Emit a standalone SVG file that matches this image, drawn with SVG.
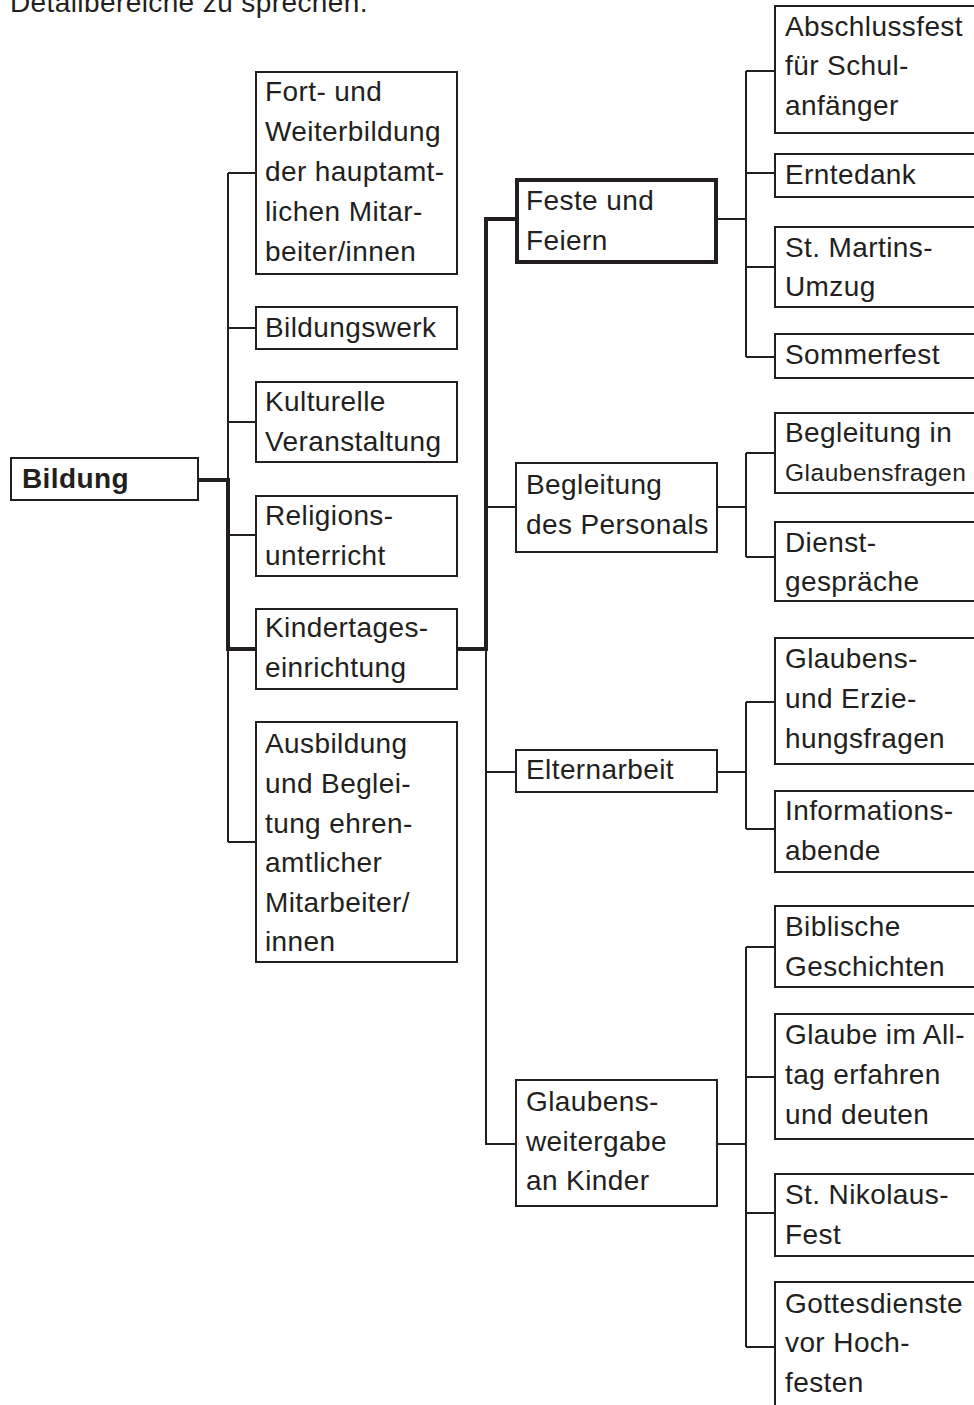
<svg xmlns="http://www.w3.org/2000/svg" width="974" height="1405" viewBox="0 0 974 1405">
<style>
rect.b{fill:#fff;stroke:#231f20;stroke-width:2}
rect.t{fill:#fff;stroke:#231f20;stroke-width:4}
text{font-family:"Liberation Sans",Arial,Helvetica,sans-serif;font-size:28px;fill:#231f20;letter-spacing:0.4px}
.bold{font-weight:bold}
.sm{font-size:24.5px;letter-spacing:0.5px}
#connectors path{fill:none;stroke:#231f20;stroke-width:2}
#connectors path.k{stroke-width:4}
</style>
<rect width="974" height="1405" fill="#fff"/>
<text x="10" y="12">Detailbereiche zu sprechen.</text>
<g id="connectors">
<path d="M228,173V842M228,173H255M228,328H255M228,422H255M228,535H255M228,842H255"/>
<path class="k" d="M198,480H228M228,478V651M228,649H255"/>
<path class="k" d="M457,649H486M486,651V217M484,219H515"/>
<path d="M486,649V1144H515M486,507H515M486,772H515"/>
<path d="M718,219H746M746,71V357M746,71H774M746,173H774M746,267H774M746,357H774"/>
<path d="M718,507H746M746,453V557M746,453H774M746,557H774"/>
<path d="M718,772H746M746,702V829M746,702H774M746,829H774"/>
<path d="M718,1144H746M746,947V1347M746,947H774M746,1077H774M746,1213H774M746,1347H774"/>
</g>
<g id="n-bildung"><rect class="b" x="11" y="458" width="187" height="42"/><text class="bold" x="22" y="488">Bildung</text></g>
<g id="n-fort"><rect class="b" x="256" y="72" width="201" height="202"/><text x="265" y="101">Fort- und</text><text x="265" y="141">Weiterbildung</text><text x="265" y="181">der hauptamt-</text><text x="265" y="221">lichen Mitar-</text><text x="265" y="261">beiter/innen</text></g>
<g id="n-bildungswerk"><rect class="b" x="256" y="307" width="201" height="42"/><text x="265" y="337">Bildungswerk</text></g>
<g id="n-kulturelle"><rect class="b" x="256" y="382" width="201" height="80"/><text x="265" y="411">Kulturelle</text><text x="265" y="451">Veranstaltung</text></g>
<g id="n-religion"><rect class="b" x="256" y="496" width="201" height="80"/><text x="265" y="525">Religions-</text><text x="265" y="565">unterricht</text></g>
<g id="n-kita"><rect class="b" x="256" y="609" width="201" height="80"/><text x="265" y="637">Kindertages-</text><text x="265" y="677">einrichtung</text></g>
<g id="n-ausbildung"><rect class="b" x="256" y="722" width="201" height="240"/><text x="265" y="753">Ausbildung</text><text x="265" y="793">und Beglei-</text><text x="265" y="833">tung ehren-</text><text x="265" y="872">amtlicher</text><text x="265" y="912">Mitarbeiter/</text><text x="265" y="951">innen</text></g>
<g id="n-feste"><rect class="t" x="517" y="180" width="199" height="82"/><text x="526" y="210">Feste und</text><text x="526" y="250">Feiern</text></g>
<g id="n-begleitung"><rect class="b" x="516" y="463" width="201" height="89"/><text x="526" y="494">Begleitung</text><text x="526" y="534">des Personals</text></g>
<g id="n-eltern"><rect class="b" x="516" y="750" width="201" height="42"/><text x="526" y="779">Elternarbeit</text></g>
<g id="n-glaubensweitergabe"><rect class="b" x="516" y="1080" width="201" height="126"/><text x="526" y="1111">Glaubens-</text><text x="526" y="1151">weitergabe</text><text x="526" y="1190">an Kinder</text></g>
<g id="n-abschluss"><rect class="b" x="775" y="6" width="220" height="127"/><text x="785" y="36">Abschlussfest</text><text x="785" y="75">für Schul-</text><text x="785" y="115">anfänger</text></g>
<g id="n-erntedank"><rect class="b" x="775" y="154" width="220" height="43"/><text x="785" y="184">Erntedank</text></g>
<g id="n-martin"><rect class="b" x="775" y="227" width="220" height="80"/><text x="785" y="257">St. Martins-</text><text x="785" y="296">Umzug</text></g>
<g id="n-sommerfest"><rect class="b" x="775" y="334" width="220" height="44"/><text x="785" y="364">Sommerfest</text></g>
<g id="n-glaubensfragen"><rect class="b" x="775" y="413" width="220" height="80"/><text x="785" y="442">Begleitung in</text><text class="sm" x="785" y="481">Glaubensfragen</text></g>
<g id="n-dienst"><rect class="b" x="775" y="522" width="220" height="79"/><text x="785" y="552">Dienst-</text><text x="785" y="591">gespräche</text></g>
<g id="n-erziehung"><rect class="b" x="775" y="638" width="220" height="126"/><text x="785" y="668">Glaubens-</text><text x="785" y="708">und Erzie-</text><text x="785" y="748">hungsfragen</text></g>
<g id="n-info"><rect class="b" x="775" y="791" width="220" height="81"/><text x="785" y="820">Informations-</text><text x="785" y="860">abende</text></g>
<g id="n-biblische"><rect class="b" x="775" y="906" width="220" height="81"/><text x="785" y="936">Biblische</text><text x="785" y="976">Geschichten</text></g>
<g id="n-alltag"><rect class="b" x="775" y="1014" width="220" height="125"/><text x="785" y="1044">Glaube im All-</text><text x="785" y="1084">tag erfahren</text><text x="785" y="1124">und deuten</text></g>
<g id="n-nikolaus"><rect class="b" x="775" y="1174" width="220" height="82"/><text x="785" y="1204">St. Nikolaus-</text><text x="785" y="1244">Fest</text></g>
<g id="n-gottesdienste"><rect class="b" x="775" y="1282" width="220" height="160"/><text x="785" y="1313">Gottesdienste</text><text x="785" y="1352">vor Hoch-</text><text x="785" y="1392">festen</text></g>
</svg>
